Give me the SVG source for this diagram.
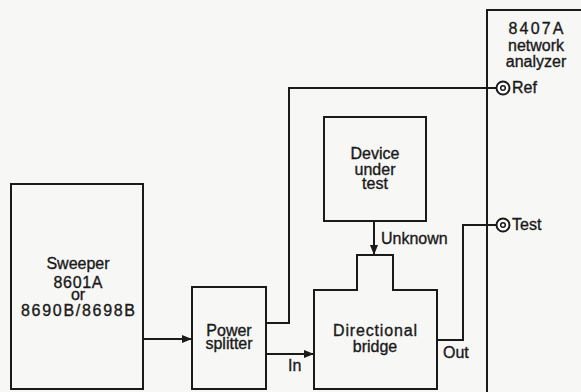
<svg xmlns="http://www.w3.org/2000/svg" width="581" height="392" viewBox="0 0 581 392">
<defs>
<marker id="arr" viewBox="0 0 10 8" refX="10" refY="4" markerWidth="10" markerHeight="8" markerUnits="userSpaceOnUse" orient="auto">
<path d="M0,0 L10,4 L0,8 Z" fill="#1a1a1a"/>
</marker>
</defs>
<style>
.box{fill:none;stroke:#1a1a1a;stroke-width:2;stroke-linejoin:miter}
.wire{fill:none;stroke:#1a1a1a;stroke-width:2}
text{font-family:"Liberation Sans",Arial,sans-serif;font-size:16px;fill:#1a1a1a;stroke:#1a1a1a;stroke-width:0.35}
.c{text-anchor:middle}
.port{fill:#fff;stroke:#1a1a1a;stroke-width:2}
.pin{fill:none;stroke:#1a1a1a;stroke-width:1.5}
</style>
<rect width="581" height="392" fill="#f7f7f5"/>
<g id="connectors">
<path class="wire" d="M143,339 H192" marker-end="url(#arr)"/>
<path class="wire" d="M266,323 H289 V88 H497"/>
<path class="wire" d="M266,354 H314" marker-end="url(#arr)"/>
<path class="wire" d="M374,221 V255" marker-end="url(#arr)"/>
<path class="wire" d="M437,340 H463 V225 H497"/>
<text x="288" y="371">In</text>
<text x="381" y="244">Unknown</text>
<text x="443" y="358">Out</text>
</g>
<g id="sweeper">
<rect class="box" x="11" y="184" width="132" height="205"/>
<text class="c" x="78" y="269">Sweeper</text>
<text class="c" x="78" y="288" textLength="49" lengthAdjust="spacing">8601A</text>
<text class="c" x="78" y="300">or</text>
<text class="c" x="78" y="316" textLength="114" lengthAdjust="spacing">8690B/8698B</text>
</g>
<g id="splitter">
<rect class="box" x="192" y="287" width="74" height="102"/>
<text class="c" x="229" y="336">Power</text>
<text class="c" x="229" y="349">splitter</text>
</g>
<g id="dut">
<rect class="box" x="324" y="117" width="102" height="104"/>
<text class="c" x="375" y="159">Device</text>
<text class="c" x="375" y="175">under</text>
<text class="c" x="375" y="189">test</text>
</g>
<g id="bridge">
<path class="box" d="M314,389 V290 H357 V255 H393 V290 H437 V389 Z"/>
<text class="c" x="375" y="336" textLength="84" lengthAdjust="spacing">Directional</text>
<text class="c" x="375" y="352">bridge</text>
</g>
<g id="analyzer">
<path class="box" d="M487,395 V10 H585"/>
<text class="c" x="536" y="34" textLength="55" lengthAdjust="spacing">8407A</text>
<text class="c" x="536" y="51">network</text>
<text class="c" x="536" y="67">analyzer</text>
<circle class="port" cx="503" cy="88" r="6.5"/>
<circle class="pin" cx="503" cy="88" r="2.3"/>
<text x="512" y="93">Ref</text>
<circle class="port" cx="503" cy="225" r="6.5"/>
<circle class="pin" cx="503" cy="225" r="2.3"/>
<text x="512" y="230">Test</text>
</g>
</svg>
